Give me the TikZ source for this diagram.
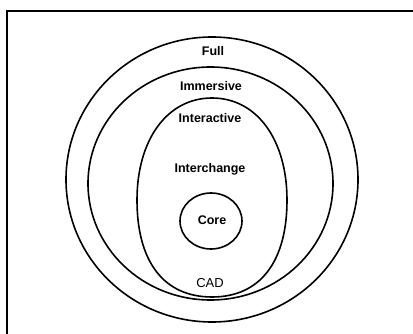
\documentclass[tikz,border=0pt]{standalone}
\usepackage{fontspec}
\setmainfont{Liberation Sans}
\usetikzlibrary{shapes.geometric}
\begin{document}
\begin{tikzpicture}[x=1pt,y=-1pt,
  ring/.style={draw,ellipse,line width=1.6pt,inner sep=0pt},
  lbl/.style={font=\fontsize{12.5}{14}\selectfont\bfseries,inner sep=0pt},
  lblr/.style={font=\fontsize{13}{15}\selectfont,inner sep=0pt}]
\useasboundingbox (0,0) rectangle (413,334);
\draw[line width=1.8pt] (7,345) -- (7,11) -- (425,11);
\node[ring,minimum width=292pt,minimum height=285pt] (full) at (212,179.5) {};
\node[ring,minimum width=245pt,minimum height=233pt] (imm) at (210.5,183.5) {};
\draw[line width=1.6pt] (212,98) .. controls (257,98) and (287,140) .. (287,200)
  .. controls (287,262) and (260,297) .. (212,297)
  .. controls (164,297) and (137,262) .. (137,200)
  .. controls (137,140) and (167,98) .. (212,98) -- cycle;
\node[ring,minimum width=62pt,minimum height=56pt] (core) at (211,221) {};
\node[lbl] (tfull) at (213,51) {Full};
\node[lbl] (timm) at (211,86) {Immersive};
\node[lbl] (tint) at (210,118) {Interactive};
\node[lbl] (tich) at (210,169) {Interchange};
\node[lbl] (tcore) at (212,220) {Core};
\node[lblr] (tcad) at (210,283) {CAD};
\end{tikzpicture}
\end{document}
